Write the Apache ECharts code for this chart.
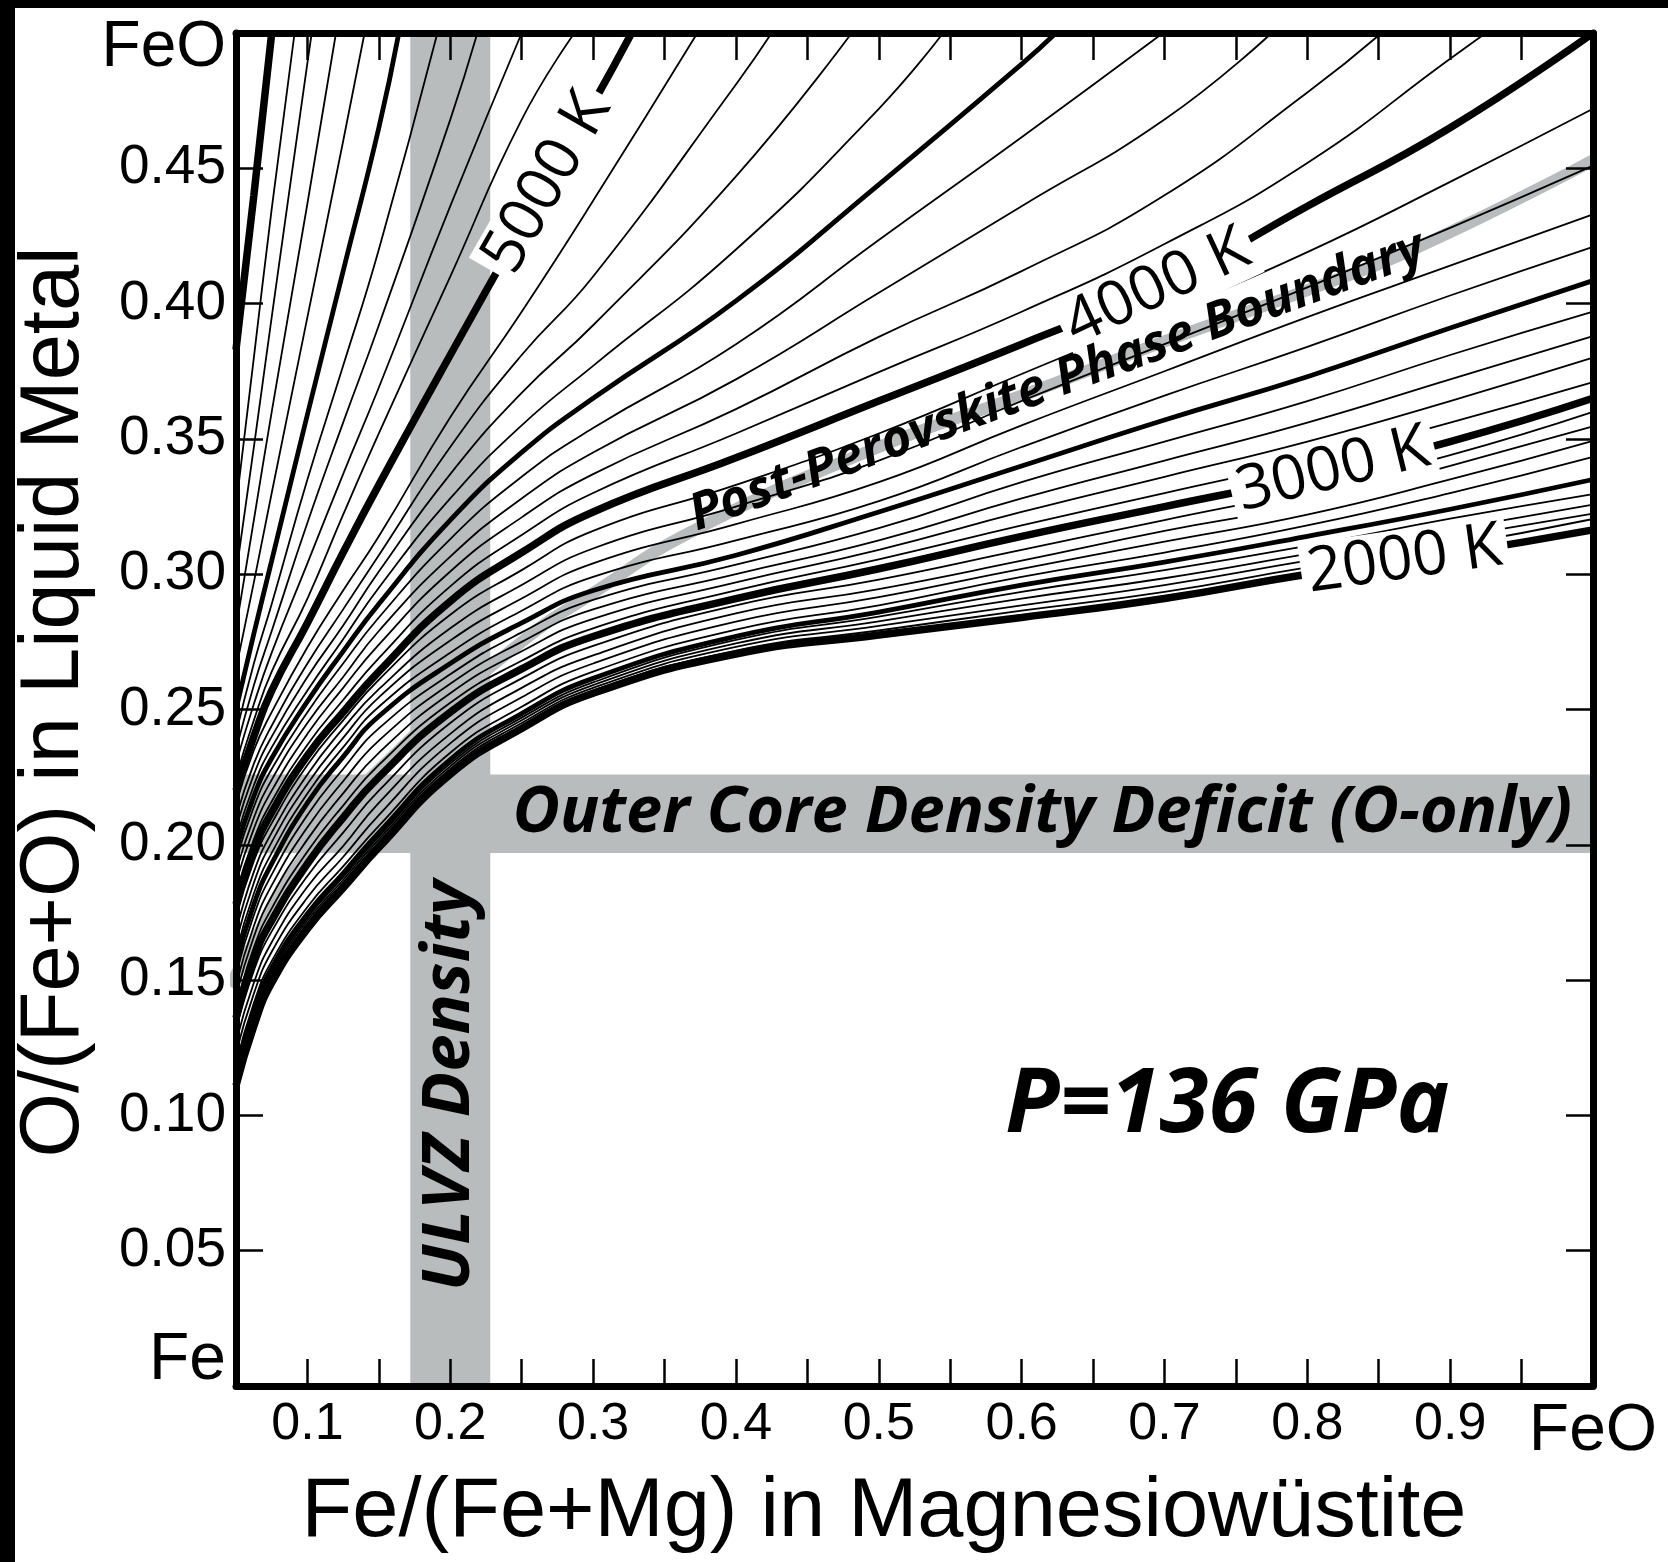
<!DOCTYPE html>
<html>
<head>
<meta charset="utf-8">
<script src="https://cdn.jsdelivr.net/npm/echarts@6/dist/echarts.min.js"></script>
<style>
html,body{margin:0;padding:0;background:#fff;}
#chart{width:1668px;height:1562px;}
</style>
</head>
<body>
<div id="chart"></div>
<script>
// Fe/(Fe+Mg) positions at which each isotherm is sampled
const sectionX = [0.05, 0.0625, 0.075, 0.1, 0.125, 0.15, 0.2, 0.25, 0.3, 0.4, 0.5, 0.6, 0.7, 0.8, 0.9, 1.0];

// O/(Fe+O) in liquid metal for each isotherm at the sample positions above
// (rows stop where the isotherm leaves through the FeO edge)
const iso2000 = [.111,.133,.149,.169,.184,.199,.226,.243,.256,.2705,.2775,.284,.291,.300,.3075,.3164];
const iso2100 = [.112,.134,.150,.170,.185,.200,.227,.244,.257,.2718,.2792,.2865,.2935,.3025,.3105,.3204];
const iso2200 = [.113,.135,.151,.171,.186,.201,.228,.245,.258,.2731,.2809,.2885,.296,.305,.3135,.3224];
const iso2300 = [.114,.136,.152,.172,.187,.202,.229,.246,.259,.2744,.2826,.291,.2985,.3075,.3165,.3257];
const iso2400 = [.115,.137,.153,.173,.188,.203,.230,.247,.260,.2757,.2843,.2935,.3015,.3105,.3205,.3296];
const iso2500 = [.1165,.1385,.1545,.1745,.1895,.2045,.2315,.2485,.2615,.277,.286,.296,.3045,.314,.324,.335];
const iso2600 = [.119,.1415,.157,.177,.192,.207,.234,.251,.264,.2795,.2885,.299,.308,.318,.330,.3434];
const iso2700 = [.123,.145,.1605,.1805,.1955,.211,.2375,.2545,.267,.2825,.2915,.302,.312,.322,.335,.3493];
const iso2800 = [.127,.149,.164,.1845,.1995,.2155,.241,.258,.270,.2855,.2945,.305,.316,.326,.340,.3546];
const iso2900 = [.1315,.1535,.168,.1885,.2045,.220,.245,.2615,.2735,.2885,.298,.309,.320,.331,.344,.360];
const iso3000 = [.136,.158,.172,.193,.210,.225,.249,.265,.277,.291,.302,.314,.325,.336,.349,.365];
const iso3100 = [.140,.162,.1765,.1975,.2145,.2295,.2525,.268,.280,.294,.3055,.318,.330,.342,.356,.371];
const iso3200 = [.144,.166,.181,.202,.219,.234,.256,.2715,.2835,.297,.309,.323,.336,.349,.364,.380];
const iso3300 = [.148,.170,.185,.2065,.2235,.2385,.2595,.275,.287,.300,.3125,.328,.342,.356,.372,.388];
const iso3400 = [.152,.174,.189,.211,.228,.243,.263,.2785,.2905,.3035,.317,.334,.349,.364,.381,.397];
const iso3500 = [.156,.178,.193,.2155,.2325,.2475,.267,.282,.294,.307,.323,.340,.357,.373,.391,.4085];
const iso3600 = [.160,.182,.197,.219,.236,.251,.271,.2865,.299,.3125,.327,.347,.366,.384,.403,.421];
const iso3700 = [.164,.186,.201,.2225,.2395,.2545,.2755,.291,.304,.3185,.334,.355,.375,.395,.414,.433];
const iso3800 = [.168,.190,.2045,.226,.243,.2575,.280,.296,.3095,.325,.342,.364,.385,.406,.428,.451];
const iso3900 = [.173,.194,.208,.2295,.246,.261,.285,.3015,.316,.333,.352,.374,.396,.419,.445,.472];
const iso4000 = [.178,.198,.212,.233,.249,.264,.290,.308,.323,.343,.364,.385,.407,.436,.465,.500];
const iso4100 = [.182,.202,.216,.237,.2535,.269,.2955,.3145,.330,.352,.3747,.397,.422,.452,.4905];
const iso4200 = [.186,.206,.220,.241,.258,.274,.301,.321,.337,.361,.3877,.412,.440,.478];
const iso4300 = [.190,.210,.224,.245,.262,.279,.3065,.328,.345,.372,.404,.436,.468];
const iso4400 = [.194,.214,.228,.249,.267,.284,.313,.336,.354,.385,.4235,.4615];
const iso4500 = [.198,.218,.232,.253,.2715,.289,.320,.345,.365,.401,.444,.4885];
const iso4600 = [.202,.222,.236,.257,.276,.295,.328,.355,.377,.420,.472];
const iso4700 = [.206,.226,.240,.262,.281,.301,.337,.367,.392,.447];
const iso4800 = [.210,.230,.244,.267,.287,.307,.347,.381,.410,.481];
const iso4900 = [.215,.235,.249,.273,.294,.314,.358,.397,.438];
const iso5000 = [.220,.240,.257,.282,.308,.333,.381,.428,.474];
const iso5100 = [.225,.246,.264,.291,.322,.352,.410,.468];
const iso5200 = [.230,.252,.271,.304,.337,.369,.436];
const iso5300 = [.235,.259,.279,.319,.356,.392,.468];
const iso5400 = [.241,.267,.289,.335,.377,.420];
const iso5500 = [.250,.278,.305,.359,.412,.465];
const iso5600 = [.265,.297,.330,.395,.460];
const iso5700 = [.280,.320,.360,.437];
const iso5800 = [.300,.347,.395,.489];
const iso5900 = [.325,.380,.435];
const iso6000 = [.383,.440];

const temperatures = [2000,2100,2200,2300,2400,2500,2600,2700,2800,2900,3000,3100,3200,3300,3400,3500,3600,3700,3800,3900,
                      4000,4100,4200,4300,4400,4500,4600,4700,4800,4900,5000,5100,5200,5300,5400,5500,5600,5700,5800,5900,6000];
const isotherms = [iso2000,iso2100,iso2200,iso2300,iso2400,iso2500,iso2600,iso2700,iso2800,iso2900,iso3000,iso3100,iso3200,iso3300,
                   iso3400,iso3500,iso3600,iso3700,iso3800,iso3900,iso4000,iso4100,iso4200,iso4300,iso4400,iso4500,iso4600,iso4700,
                   iso4800,iso4900,iso5000,iso5100,iso5200,iso5300,iso5400,iso5500,iso5600,iso5700,iso5800,iso5900,iso6000];
// Fe/(Fe+Mg) where an isotherm reaches pure FeO liquid (null: it reaches the Fe/(Fe+Mg)=1 edge first)
const feoExitX = [null,null,null,null,null,null,null,null,null,null,null,null,null,null,null,null,null,null,null,null,
                  null,0.925,0.852,0.775,0.699,0.624,0.545,0.481,0.425,0.373,0.327,0.287,0.250,0.219,0.191,0.164,0.140,0.120,0.103,0.091,0.075];

// Post-perovskite phase boundary
const ppvX = [0.045,0.05,0.1,0.17,0.25,0.3,0.37,0.5,0.6,0.7,0.8,0.878,1.0];
const ppvY = [0.148,0.152,0.197,0.238,0.275,0.293,0.316,0.347,0.366,0.386,0.405,0.421,0.453];

// ULVZ density range (Fe/(Fe+Mg)) and outer core density deficit (O/(Fe+O))
const ulvzRange = [0.172, 0.228];
const coreDeficitRange = [0.197, 0.226];

// isotherm labels
const labelTemps = [2000, 3000, 4000, 5000];
const labelAtX = [0.868, 0.818, 0.695, 0.268];

const GRAY = '#b9bcbc';
const FONT = '"Liberation Sans", Arial, Helvetica, sans-serif';
const LABEL_FONT = '"Open Sans", "Noto Sans", sans-serif';

function curvePoints(row, exitX) {
  const pts = [];
  for (let i = 0; i < row.length; i++) {
    if (row[i] != null) pts.push([sectionX[i], row[i]]);
  }
  if (exitX != null) pts.push([exitX, 0.5]);
  return pts;
}
function widthFor(t) {
  if (t % 1000 === 0) return 7.5;
  if (t % 500 === 0) return 4.8;
  return 1.8;
}

const curves = isotherms.map((row, i) => curvePoints(row, feoExitX[i]));

const series = [];
// shaded density bands
series.push({
  type: 'line', data: [[0.5, -1]], showSymbol: false, silent: true, z: 1,
  lineStyle: { opacity: 0 },
  markArea: {
    silent: true,
    itemStyle: { color: GRAY, borderWidth: 0 },
    data: [
      [{ xAxis: ulvzRange[0], yAxis: 0 }, { xAxis: ulvzRange[1], yAxis: 0.5 }],
      [{ xAxis: 0.05, yAxis: coreDeficitRange[0] }, { xAxis: 1.0, yAxis: coreDeficitRange[1] }]
    ]
  }
});
// phase boundary
series.push({
  type: 'line', data: ppvX.map((x, i) => [x, ppvY[i]]), smooth: 0.5,
  showSymbol: false, silent: true, clip: false, z: 2,
  lineStyle: { color: GRAY, width: 12, cap: 'butt' }
});
// isotherms
curves.forEach((pts, i) => {
  series.push({
    type: 'line', name: temperatures[i] + ' K', data: pts, smooth: 0.5,
    showSymbol: false, silent: true, z: 3,
    lineStyle: { color: '#000', width: widthFor(temperatures[i]), cap: 'butt' }
  });
});

const axisCommon = {
  type: 'value', min: 0, max: 0.5, interval: 0.05,
  axisLine: { show: true, onZero: false, lineStyle: { color: '#000', width: 7 } },
  axisTick: { show: true, inside: true, length: 27, lineStyle: { color: '#000', width: 2.5 } },
  splitLine: { show: false }, z: 10
};

const chart = echarts.init(document.getElementById('chart'), null, { renderer: 'canvas', width: 1668, height: 1562 });
chart.setOption({
  animation: false,
  backgroundColor: '#fff',
  grid: { left: 236, right: 75, top: 33, bottom: 176, containLabel: false },
  xAxis: [
    Object.assign({}, axisCommon, {
      min: 0.05, max: 1.0, position: 'bottom',
      axisLabel: {
        show: true, margin: 13, color: '#000', fontSize: 52, fontFamily: FONT,
        showMinLabel: true, showMaxLabel: true,
        formatter: v => {
          const k = Math.round(v * 100);
          if (k === 100) return '{feo|FeO}';
          return k % 10 === 0 ? (k / 100).toFixed(1) : '';
        },
        rich: { feo: { fontSize: 66, fontFamily: FONT, color: '#000' } }
      }
    }),
    Object.assign({}, axisCommon, { min: 0.05, max: 1.0, position: 'top', axisLabel: { show: false } })
  ],
  yAxis: [
    Object.assign({}, axisCommon, {
      position: 'left',
      axisLabel: {
        show: true, margin: 10, color: '#000', fontSize: 55, fontFamily: FONT,
        showMinLabel: true, showMaxLabel: true,
        formatter: v => {
          const k = Math.round(v * 100);
          if (k === 0) return '{fe|Fe}';
          if (k === 50) return '{feo|FeO}';
          return (k / 100).toFixed(2);
        },
        rich: {
          fe: { fontSize: 66, fontFamily: FONT, color: '#000', padding: [0, 0, 50, 0] },
          feo: { fontSize: 64, fontFamily: FONT, color: '#000', padding: [30, 0, 0, 0] }
        }
      }
    }),
    Object.assign({}, axisCommon, { position: 'right', axisLabel: { show: false } })
  ],
  series: series
});

// text placed along curves, using the chart's own coordinate conversion
function yAt(pts, x) {
  for (let i = 0; i < pts.length - 1; i++) {
    if (x >= pts[i][0] && x <= pts[i + 1][0]) {
      const f = (x - pts[i][0]) / (pts[i + 1][0] - pts[i][0]);
      return pts[i][1] + f * (pts[i + 1][1] - pts[i][1]);
    }
  }
  return pts[pts.length - 1][1];
}
function placeOn(pts, x, dx) {
  const p = chart.convertToPixel({ gridIndex: 0 }, [x, yAt(pts, x)]);
  const a = chart.convertToPixel({ gridIndex: 0 }, [x - dx, yAt(pts, x - dx)]);
  const b = chart.convertToPixel({ gridIndex: 0 }, [x + dx, yAt(pts, x + dx)]);
  return { x: p[0], y: p[1], rotation: Math.atan2(-(b[1] - a[1]), b[0] - a[0]) };
}

const graphics = [
  { type: 'rect', shape: { x: 0, y: 0, width: 1668, height: 8 }, style: { fill: '#000' }, z: 100 },
  { type: 'rect', shape: { x: 0, y: 0, width: 15, height: 1562 }, style: { fill: '#000' }, z: 100 },
  { type: 'text', x: 884, y: 1513, style: { text: 'Fe/(Fe+Mg) in Magnesiowüstite', fontSize: 83, fontFamily: FONT, fill: '#000', align: 'center', verticalAlign: 'middle' }, z: 50 },
  { type: 'text', x: 55, y: 702, rotation: Math.PI / 2, style: { text: 'O/(Fe+O) in Liquid Metal', fontSize: 83, fontFamily: FONT, fill: '#000', align: 'center', verticalAlign: 'middle' }, z: 50 }
];

labelTemps.forEach((t, j) => {
  const pts = curves[temperatures.indexOf(t)];
  const pos = placeOn(pts, labelAtX[j], 0.02);
  graphics.push({
    type: 'text', x: pos.x, y: pos.y, rotation: pos.rotation, z: 40,
    style: { text: t + ' K', fontSize: 62, fontFamily: LABEL_FONT, fill: '#000', align: 'center', verticalAlign: 'middle',
             backgroundColor: '#fff', padding: [0, 6, 0, 6] }
  });
});

const ppvPts = ppvX.map((x, i) => [x, ppvY[i]]);
const ppvPos = placeOn(ppvPts, 0.625, 0.1);
graphics.push({
  type: 'text', x: ppvPos.x, y: ppvPos.y, rotation: ppvPos.rotation, z: 40,
  style: { text: 'Post-Perovskite Phase Boundary', fontSize: 51, fontFamily: LABEL_FONT, fontWeight: 'bold', fontStyle: 'italic',
           fill: '#000', align: 'center', verticalAlign: 'middle' }
});

const deficitPos = chart.convertToPixel({ gridIndex: 0 }, [0.6145, (coreDeficitRange[0] + coreDeficitRange[1]) / 2]);
graphics.push({
  type: 'text', x: deficitPos[0], y: deficitPos[1], z: 40,
  style: { text: 'Outer Core Density Deficit (O-only)', fontSize: 65, fontFamily: LABEL_FONT, fontWeight: 'bold', fontStyle: 'italic',
           fill: '#000', align: 'center', verticalAlign: 'middle' }
});
const ulvzPos = chart.convertToPixel({ gridIndex: 0 }, [(ulvzRange[0] + ulvzRange[1]) / 2, 0.111]);
graphics.push({
  type: 'text', x: ulvzPos[0], y: ulvzPos[1], rotation: Math.PI / 2, z: 40,
  style: { text: 'ULVZ Density', fontSize: 67, fontFamily: LABEL_FONT, fontWeight: 'bold', fontStyle: 'italic',
           fill: '#000', align: 'center', verticalAlign: 'middle' }
});
const pPos = chart.convertToPixel({ gridIndex: 0 }, [0.744, 0.1034]);
graphics.push({
  type: 'text', x: pPos[0], y: pPos[1], z: 40,
  style: { text: 'P=136 GPa', fontSize: 89, fontFamily: LABEL_FONT, fontWeight: 'bold', fontStyle: 'italic',
           fill: '#000', align: 'center', verticalAlign: 'middle' }
});

chart.setOption({ graphic: graphics });
</script>
</body>
</html>
